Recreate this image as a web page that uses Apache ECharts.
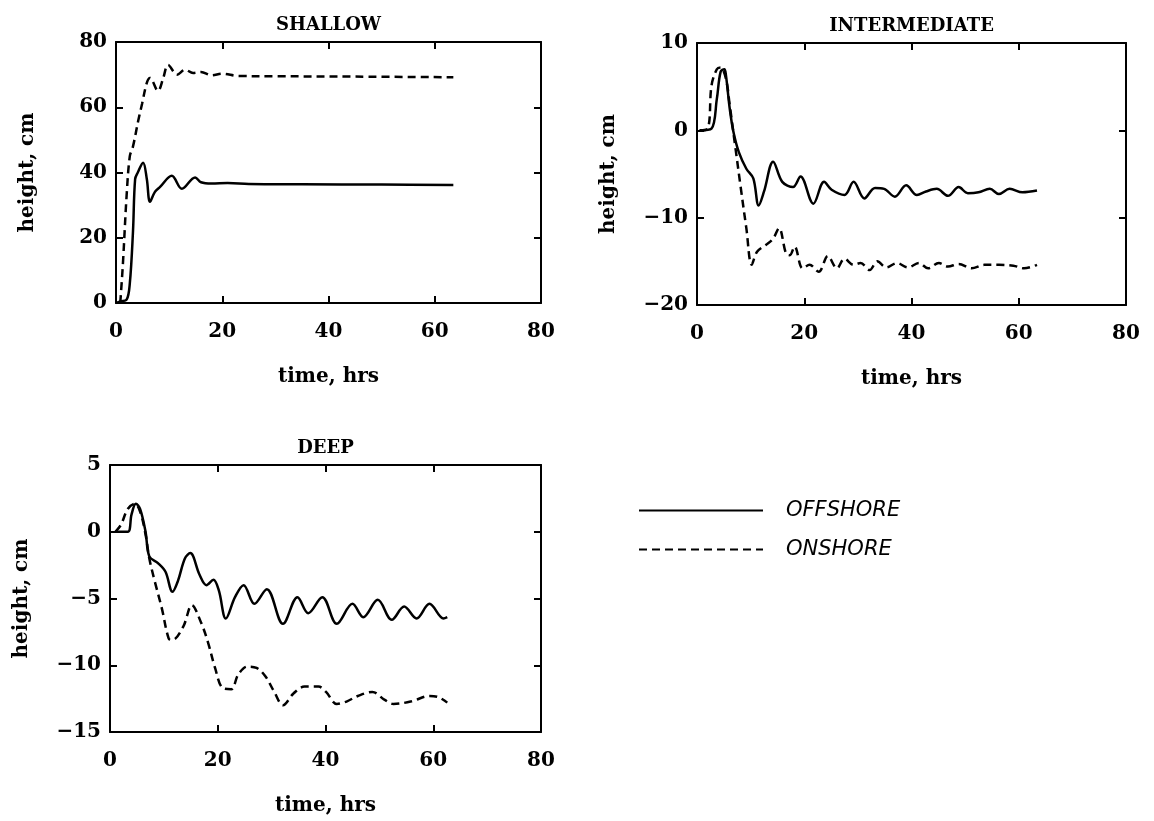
<!DOCTYPE html>
<html>
<head>
<meta charset="utf-8">
<title>Storm surge height</title>
<script src="https://cdn.jsdelivr.net/npm/echarts@6/dist/echarts.min.js"></script>
<style>
  html, body { margin: 0; padding: 0; background: #fff; }
  #chart { width: 1154px; height: 821px; }
</style>
</head>
<body>
<div id="chart"></div>
<script>
// time axis ticks (hrs)
const timeTicks = [0, 20, 40, 60, 80]

// SHALLOW
const shallowOffT = [0, 0.8, 2, 2.6, 3.2, 3.6, 4.1, 5.1, 5.8, 6.4, 7.3, 8.3, 10.5, 12.4, 14.9, 16, 18, 21, 25, 35, 50, 63.5]
const shallowOff = [0, 0.5, 1, 6, 22, 38, 40, 43, 38, 31, 34, 35.6, 39, 35, 38.5, 37, 36.6, 36.8, 36.5, 36.4, 36.3, 36.2]
const shallowOnT = [0.8, 1.3, 2, 2.6, 3.2, 4.2, 4.9, 5.8, 6.4, 7.9, 8.9, 9.8, 11.5, 13, 14.5, 16, 18, 20, 23, 30, 45, 63.5]
const shallowOn = [0, 12, 33, 45, 48, 56, 61, 67.5, 69, 65, 69, 73, 70, 71.5, 70.5, 70.8, 69.8, 70.3, 69.6, 69.5, 69.4, 69.2]

// INTERMEDIATE
const interOffT = [0.5, 2.7, 3.7, 4.4, 5.1, 5.4, 6.1, 6.8, 7.8, 9.2, 10.5, 11.5, 12.5, 14.2, 15.9, 17.9, 19.3, 21.7, 23.7, 25.1, 27.5, 29.2, 31.2, 33.2, 34.9, 36.9, 39, 41, 42.7, 44.7, 46.8, 48.8, 50.5, 52.5, 54.6, 56.3, 58.3, 60.7, 63.4]
const interOff = [0, 0.2, 3.6, 6.7, 7, 6.3, 2.5, -0.2, -2.5, -4.4, -5.5, -8.6, -7, -3.6, -5.9, -6.5, -5.3, -8.4, -5.9, -6.8, -7.4, -5.9, -7.8, -6.6, -6.7, -7.6, -6.3, -7.4, -7, -6.7, -7.5, -6.5, -7.2, -7.1, -6.7, -7.3, -6.7, -7.1, -6.9]
const interOnT = [0.5, 2, 2.7, 3.7, 4.4, 5.4, 6.1, 7.1, 8.1, 9.2, 10.2, 11.2, 12.9, 14.2, 15.3, 16.6, 17.3, 18.2, 19.7, 21, 22.7, 24.4, 26.1, 27.5, 29.2, 30.5, 32.2, 33.6, 35.3, 37.3, 39.3, 41.4, 43.1, 45.1, 46.8, 48.8, 51.2, 53.6, 56.3, 59, 61, 63.4]
const interOn = [0, 0.2, 5.1, 7, 7.2, 5.9, 2.9, -1.7, -6.3, -11.2, -15.4, -13.9, -13.1, -12.4, -11.2, -14.1, -14.3, -13.3, -15.8, -15.4, -16.2, -14.4, -15.8, -14.7, -15.4, -15.2, -16, -15, -15.7, -15.2, -15.7, -15.2, -15.8, -15.2, -15.6, -15.3, -15.8, -15.4, -15.4, -15.5, -15.8, -15.4]

// DEEP
const deepOffT = [1, 3.3, 4, 4.8, 5.6, 6.6, 7.3, 8.9, 10.3, 11.6, 12.6, 13.9, 14.9, 16.6, 17.9, 19.2, 20.2, 21.5, 23.2, 24.8, 26.8, 29.1, 32.1, 34.8, 36.8, 39.4, 42.1, 45, 47, 49.7, 52.3, 54.6, 56.9, 59.3, 61.9, 62.6]
const deepOff = [0, 0, 1.3, 2.1, 1.7, 0, -1.85, -2.35, -3, -4.5, -3.7, -2, -1.6, -3.2, -4, -3.6, -4.4, -6.5, -4.9, -4, -5.4, -4.3, -6.9, -4.9, -6.1, -4.9, -6.9, -5.4, -6.4, -5.1, -6.6, -5.6, -6.5, -5.4, -6.5, -6.4]
const deepOnT = [1, 2, 3.3, 4.6, 5.6, 6.6, 7.3, 8.3, 9.6, 10.9, 11.6, 13.6, 15.2, 16.9, 18.2, 19.5, 20.9, 22.5, 23.8, 25.5, 27.2, 28.8, 30.5, 32.1, 34.1, 36.1, 38.7, 40.1, 42.1, 44, 46, 48.7, 51, 52.6, 56, 59.3, 61, 62.6]
const deepOn = [0, 0.5, 1.7, 2.1, 1.5, -0.2, -2, -3.7, -5.7, -8, -8.1, -7.1, -5.5, -6.8, -8.3, -10.2, -11.7, -11.8, -10.7, -10.1, -10.2, -10.8, -12, -13, -12.1, -11.6, -11.6, -12, -12.9, -12.7, -12.3, -12, -12.6, -12.9, -12.7, -12.3, -12.4, -12.8]

const serif = 'DejaVu Serif'
const zip = (t, v) => t.map((x, i) => [x, v[i]])
const minus = v => String(v).replace('-', '\u2212')

const grids = [
  { left: 116, top: 42, width: 425, height: 261 },
  { left: 697, top: 43, width: 429, height: 262 },
  { left: 110, top: 465, width: 431, height: 267 }
]

const panels = [
  { title: 'SHALLOW', yMin: 0, yMax: 80, yInt: 20, off: zip(shallowOffT, shallowOff), on: zip(shallowOnT, shallowOn) },
  { title: 'INTERMEDIATE', yMin: -20, yMax: 10, yInt: 10, off: zip(interOffT, interOff), on: zip(interOnT, interOn) },
  { title: 'DEEP', yMin: -15, yMax: 5, yInt: 5, off: zip(deepOffT, deepOff), on: zip(deepOnT, deepOn) }
]

const frameLine = { show: true, onZero: false, lineStyle: { color: '#000', width: 2 } }
const inTick = { show: true, inside: true, length: 7, lineStyle: { color: '#000', width: 2 } }
const tickFont = { color: '#000', fontFamily: serif, fontWeight: 'bold', fontSize: 20 }
const nameFont = { color: '#000', fontFamily: serif, fontWeight: 'bold', fontSize: 20 }

const xAxis = []
const yAxis = []
const series = []

panels.forEach((p, i) => {
  // bottom + top x axes (the frame)
  xAxis.push({
    gridIndex: i, type: 'value', min: timeTicks[0], max: timeTicks[timeTicks.length - 1], interval: 20,
    position: 'bottom', name: 'time, hrs', nameLocation: 'middle', nameGap: 64, nameTextStyle: nameFont,
    axisLine: frameLine, axisTick: inTick, splitLine: { show: false },
    axisLabel: Object.assign({ margin: 19 }, tickFont)
  })
  xAxis.push({
    gridIndex: i, type: 'value', min: 0, max: 80, interval: 20, position: 'top',
    name: p.title, nameLocation: 'middle', nameGap: 8,
    nameTextStyle: { color: '#000', fontFamily: serif, fontWeight: 'bold', fontSize: 18 },
    axisLine: frameLine, axisTick: inTick, splitLine: { show: false }, axisLabel: { show: false }
  })
  // left + right y axes
  yAxis.push({
    gridIndex: i, type: 'value', min: p.yMin, max: p.yMax, interval: p.yInt, position: 'left',
    name: 'height, cm', nameLocation: 'middle', nameRotate: 90, nameGap: 78, nameTextStyle: nameFont,
    axisLine: frameLine, axisTick: inTick, splitLine: { show: false },
    axisLabel: Object.assign({ margin: 9, formatter: minus }, tickFont)
  })
  yAxis.push({
    gridIndex: i, type: 'value', min: p.yMin, max: p.yMax, interval: p.yInt, position: 'right',
    axisLine: frameLine, axisTick: inTick, splitLine: { show: false }, axisLabel: { show: false }
  })

  series.push({
    name: 'OFFSHORE', type: 'line', xAxisIndex: 2 * i, yAxisIndex: 2 * i,
    data: p.off, symbol: 'none', smooth: 0.35,
    lineStyle: { color: '#000', width: 2.5, type: 'solid' }, itemStyle: { color: '#000' }
  })
  series.push({
    name: 'ONSHORE', type: 'line', xAxisIndex: 2 * i, yAxisIndex: 2 * i,
    data: p.on, symbol: 'none', smooth: 0.35,
    lineStyle: { color: '#000', width: 2.5, type: [8, 5] }, itemStyle: { color: '#000' }
  })
})

const chart = echarts.init(document.getElementById('chart'), null, { renderer: 'canvas' })
chart.setOption({
  animation: false,
  backgroundColor: '#fff',
  grid: grids,
  xAxis: xAxis,
  yAxis: yAxis,
  legend: {
    data: ['OFFSHORE', 'ONSHORE'],
    orient: 'vertical', left: 633, top: 495,
    itemWidth: 124, itemHeight: 14, itemGap: 18,
    selectedMode: false,
    itemStyle: { opacity: 0 },
    textStyle: { color: '#000', fontFamily: 'DejaVu Sans', fontStyle: 'italic', fontSize: 21, padding: [0, 0, 0, 18] }
  },
  series: series
})
</script>
</body>
</html>
